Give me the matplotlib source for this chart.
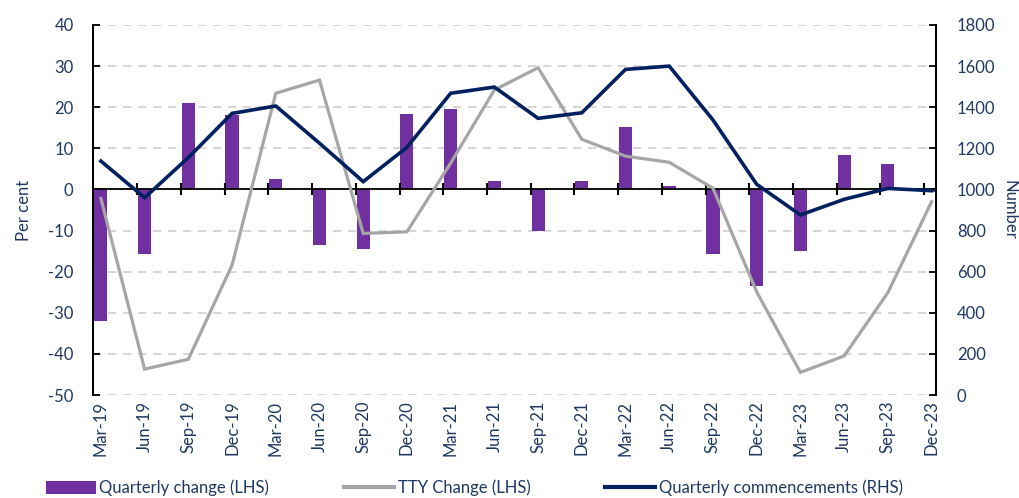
import numpy as np
import matplotlib
matplotlib.use("Agg")
import matplotlib.pyplot as plt
from matplotlib.patches import Patch
from matplotlib.lines import Line2D

categories = ["Mar-19", "Jun-19", "Sep-19", "Dec-19", "Mar-20", "Jun-20", "Sep-20", "Dec-20",
              "Mar-21", "Jun-21", "Sep-21", "Dec-21", "Mar-22", "Jun-22", "Sep-22", "Dec-22",
              "Mar-23", "Jun-23", "Sep-23", "Dec-23"]
quarterly_change = [-32.0, -15.8, 21.0, 18.2, 2.5, -13.5, -14.6, 18.4, 19.6, 2.0,
                    -10.0, 2.0, 15.3, 0.8, -15.8, -23.5, -14.9, 8.3, 6.3, -0.5]
tty_change = [-2.2, -43.7, -41.3, -18.4, 23.4, 26.6, -10.7, -10.3, 6.4, 24.2,
              29.6, 12.2, 8.1, 6.6, 0.3, -24.9, -44.5, -40.5, -25.1, -3.0]
commencements = [1138, 960, 1155, 1370, 1406, 1225, 1038, 1205, 1468, 1498,
                 1346, 1373, 1584, 1600, 1338, 1025, 876, 952, 1005, 994]

left_ticks = [-50, -40, -30, -20, -10, 0, 10, 20, 30, 40]
right_ticks = [0, 200, 400, 600, 800, 1000, 1200, 1400, 1600, 1800]

PURPLE = "#7030A0"
GREY = "#A6A6A6"
NAVY = "#002060"
TXT = "#1F3864"

plt.rcParams["font.family"] = ["Lato", "DejaVu Sans"]
plt.rcParams["axes.unicode_minus"] = False

fig = plt.figure(figsize=(10.2, 4.98), dpi=100)
ax = fig.add_axes([0.0912, 0.2068, 0.8264, 0.743])
ax2 = ax.twinx()

x = np.arange(len(categories))

ax.set_ylim(-50, 40)
ax.set_yticks(left_ticks)
ax.yaxis.grid(True, color="#D0D0D0", linestyle=(0, (5, 4)), linewidth=1.2)
ax.set_axisbelow(True)

ax.bar(x, quarterly_change, width=0.3, color=PURPLE, zorder=2)
ax.plot(x, tty_change, color=GREY, linewidth=2.3, zorder=3, solid_joinstyle="miter")

ax2.set_ylim(0, 1800)
ax2.set_yticks(right_ticks)
ax2.plot(x, commencements, color=NAVY, linewidth=2.6, zorder=4, solid_joinstyle="miter")

ax.set_xlim(-0.18, 19.1)

ax.axhline(0, color="black", linewidth=1.3, zorder=2.5)
bx = x[1:] - 0.17
ax.plot(bx, np.zeros_like(bx), linestyle="none", marker="|", markersize=9,
        markeredgewidth=1.5, color="black", zorder=2.6)

ax.set_xticks(x)
ax.set_xticklabels(categories, rotation=90, fontsize=12, color=TXT)
ax.tick_params(axis="x", length=0, pad=4)

for a in (ax, ax2):
    a.spines["top"].set_visible(False)
    a.spines["bottom"].set_visible(False)
    a.spines["left"].set_color("black")
    a.spines["right"].set_color("black")
    a.spines["left"].set_linewidth(1.3)
    a.spines["right"].set_linewidth(1.3)

ax.tick_params(axis="y", direction="in", length=5, width=1.3, labelsize=12,
               labelcolor=TXT, pad=14)
ax2.tick_params(axis="y", direction="in", length=5, width=1.3, labelsize=12,
                labelcolor=TXT, pad=15)

ax.set_ylabel("Per cent", fontsize=12, color=TXT, labelpad=12)
ax2.set_ylabel("Number", fontsize=12, color=TXT, rotation=-90, labelpad=16)

handles = [Patch(facecolor=PURPLE, edgecolor="none"),
           Line2D([0], [0], color=GREY, linewidth=3),
           Line2D([0], [0], color=NAVY, linewidth=3)]
labels = ["Quarterly change (LHS)", "TTY Change (LHS)", "Quarterly commencements (RHS)"]
leg = fig.legend(handles, labels, loc="center", bbox_to_anchor=(0.465, 0.02), ncol=3,
                 frameon=False, fontsize=12, handlelength=3.0, handleheight=0.8,
                 handletextpad=0.2, columnspacing=4.5)
for t in leg.get_texts():
    t.set_color(TXT)

fig.savefig("out.png", dpi=100)
